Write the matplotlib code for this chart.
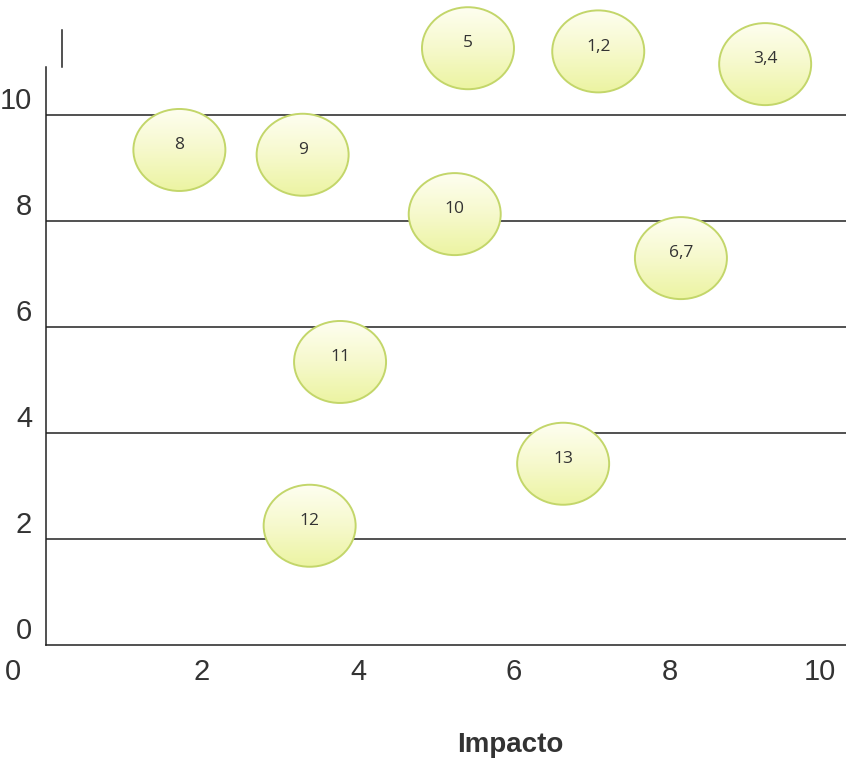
import numpy as np
import matplotlib
matplotlib.use("Agg")
import matplotlib.pyplot as plt
from matplotlib.patches import Ellipse
from matplotlib.colors import LinearSegmentedColormap
from matplotlib.transforms import ScaledTranslation

# Risk items: impact (x) vs. probability (y)
labels = ["1,2", "3,4", "5", "6,7", "8", "9", "10", "11", "12", "13"]
impacto = [7.08, 9.22, 5.41, 8.14, 1.71, 3.29, 5.24, 3.77, 3.38, 6.63]
probabilidad = [11.2, 10.96, 11.26, 7.3, 9.34, 9.25, 8.13, 5.34, 2.25, 3.42]

x_ticks = [0, 2, 4, 6, 8, 10]
y_ticks = [0, 2, 4, 6, 8, 10]
grid_levels = [2, 4, 6, 8, 10]

fig = plt.figure(figsize=(8.46, 7.66), dpi=100)
ax = fig.add_axes([46 / 846, 121 / 766, (846 - 46) / 846, (766 - 121) / 766])
x_max = (846 - 46) / 78
y_max = 645 / 53
ax.set_xlim(0, x_max)
ax.set_ylim(0, y_max)

for s in ["top", "right"]:
    ax.spines[s].set_visible(False)
for s in ["left", "bottom"]:
    ax.spines[s].set_color("#222222")
    ax.spines[s].set_linewidth(1.1)
ax.spines["left"].set_bounds(0, 10.9)

# horizontal reference lines
for g in grid_levels:
    ax.axhline(g, color="#222222", lw=1.1, zorder=1)

# short mark above the vertical axis
ax.plot([0.2, 0.2], [10.9, 11.6], color="#222222", lw=1.1, zorder=1)

ax.set_xticks(x_ticks)
ax.set_yticks(y_ticks)
ax.set_xticklabels([str(v) for v in x_ticks])
ax.set_yticklabels([str(v) for v in y_ticks])
ax.tick_params(axis="both", length=0, labelsize=21, labelcolor="#333333")
ax.tick_params(axis="y", pad=10)
ax.tick_params(axis="x", pad=9)
for t in ax.get_xticklabels() + ax.get_yticklabels():
    t.set_family("Liberation Sans")
for t in ax.get_yticklabels():
    t.set_transform(t.get_transform() + ScaledTranslation(0, 17 / 100, fig.dpi_scale_trans))
xl = ax.get_xticklabels()
xl[0].set_transform(xl[0].get_transform() + ScaledTranslation(-33 / 100, 0, fig.dpi_scale_trans))
xl[-1].set_transform(xl[-1].get_transform() + ScaledTranslation(-6 / 100, 0, fig.dpi_scale_trans))

fig.text(510 / 846, 1 - 745 / 766, "Impacto", ha="center", va="center",
         fontsize=20, fontweight="bold", color="#333333", family="Liberation Sans")

# bubbles with a soft vertical gradient
cmap = LinearSegmentedColormap.from_list("bubble", ["#fefef0", "#f6f9cc", "#ecf4a2"])
grad = np.linspace(0, 1, 100).reshape(-1, 1)
bw = 92 / 78
bh = 82 / 53
for lab, x, y in zip(labels, impacto, probabilidad):
    e = Ellipse((x, y), bw, bh, facecolor="none", edgecolor="#c3d66a", lw=1.4, zorder=4)
    ax.add_patch(e)
    im = ax.imshow(grad, cmap=cmap, aspect="auto", origin="upper",
                   extent=(x - bw / 2, x + bw / 2, y - bh / 2, y + bh / 2), zorder=3)
    im.set_clip_path(e)
    ax.text(x, y + 0.09, lab, ha="center", va="center", fontsize=12.5,
            color="#333333", family="Open Sans", zorder=5)

ax.set_xlim(0, x_max)
ax.set_ylim(0, y_max)

fig.savefig("out.png", dpi=100, facecolor="white")
